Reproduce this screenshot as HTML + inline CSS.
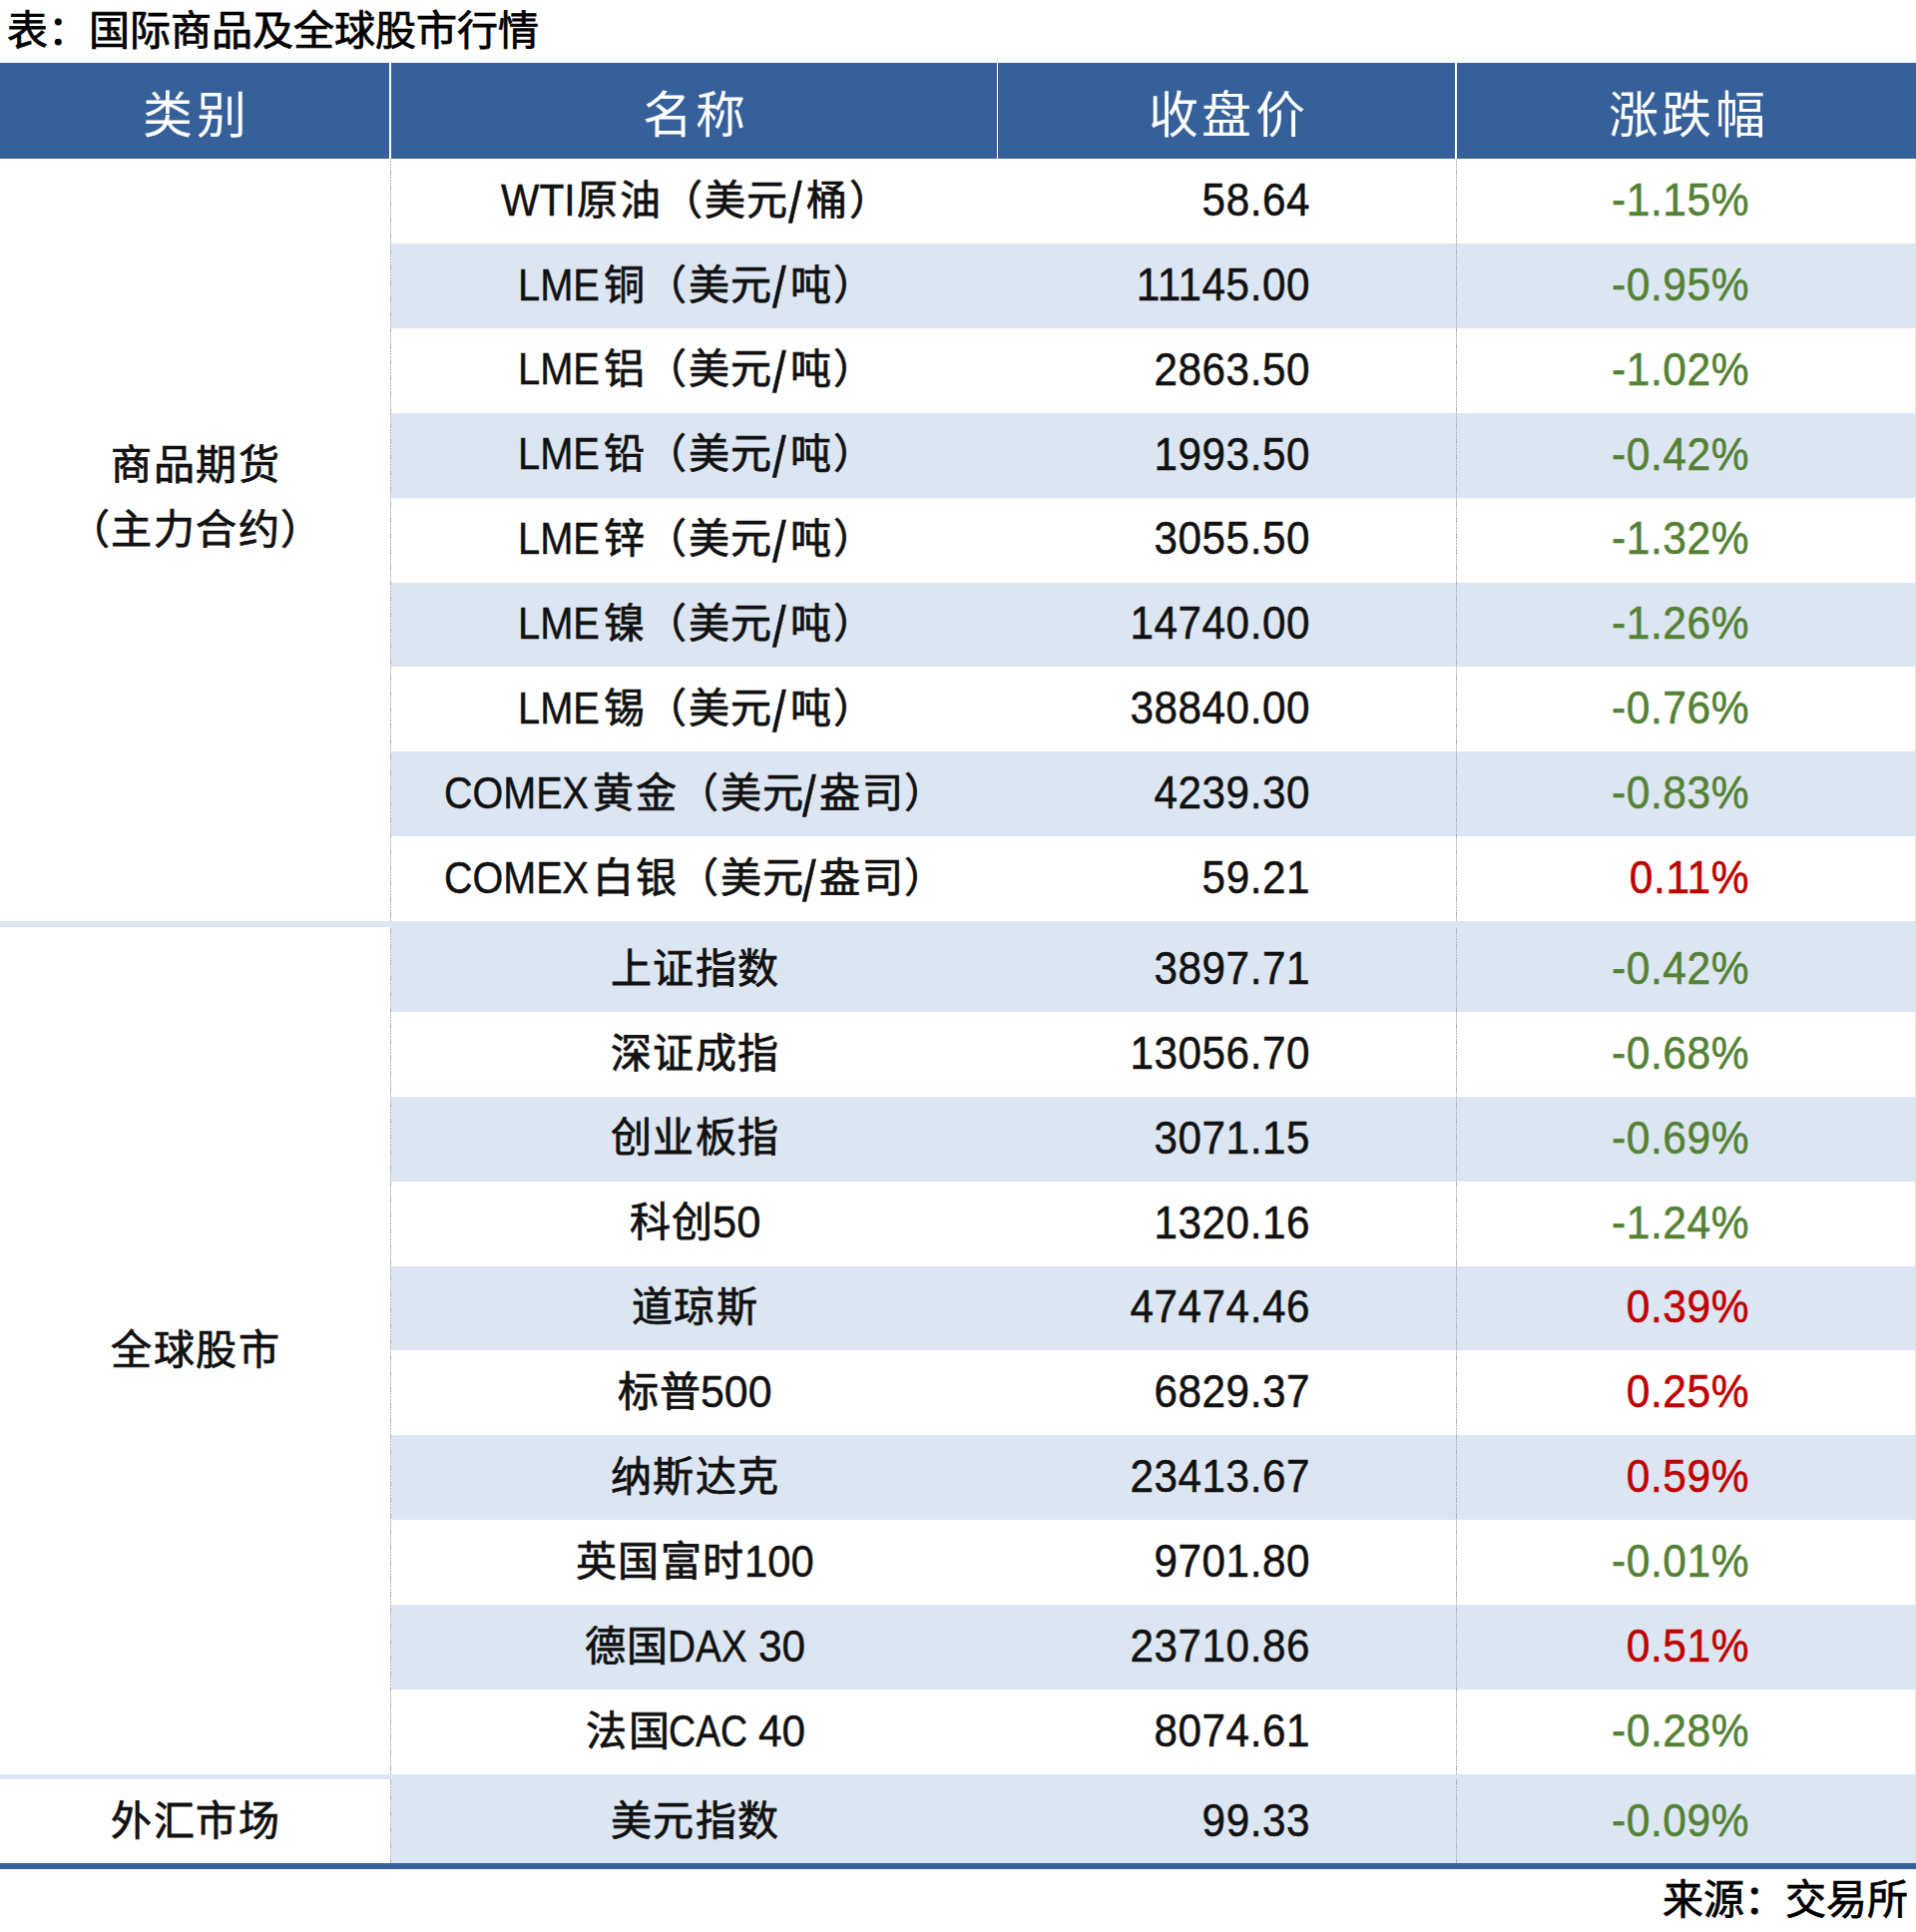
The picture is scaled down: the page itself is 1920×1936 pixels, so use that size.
<!DOCTYPE html>
<html lang="zh-CN"><head><meta charset="utf-8">
<title>国际商品及全球股市行情</title>
<style>
html,body{margin:0;padding:0;background:#fff;}
body{width:1920px;height:1936px;position:relative;overflow:hidden;font-family:"Liberation Sans",sans-serif;color:#111;}
.title{position:absolute;left:7px;top:1px;font-size:41px;line-height:60px;white-space:nowrap;color:#000;-webkit-text-stroke:0.75px currentColor;}
.hdr{position:absolute;left:0;top:63px;width:1920px;height:96px;background:#36609a;}
.vdiv{position:absolute;top:63px;height:96px;background:#fff;}
.ht{position:absolute;top:68px;height:96px;line-height:96px;font-size:50px;letter-spacing:3.5px;text-indent:3.5px;color:#fff;text-align:center;white-space:nowrap;font-family:"Liberation Serif",serif;}
.band{position:absolute;left:392px;width:1528px;background:#dce6f2;}
.sep{position:absolute;left:0;width:1920px;height:5px;background:#dce6f2;}
.bot{position:absolute;left:0;top:1867px;width:1920px;height:6px;background:#36609a;}
.dash{position:absolute;width:1px;background-image:linear-gradient(to bottom,#b2b2b2 0,#b2b2b2 34.7%,transparent 34.7%,transparent 44.2%,#b2b2b2 44.2%,#b2b2b2 53.7%,transparent 53.7%,transparent 63.2%,#b2b2b2 63.2%,#b2b2b2 72.7%,transparent 72.7%,transparent 82.2%,#b2b2b2 82.2%,#b2b2b2 91.6%,transparent 91.6%,transparent 100%);background-size:1px 15.83px;}
.rline{position:absolute;left:1919px;top:159px;width:1px;height:1708px;background:#e4e4e4;}
.t{position:absolute;height:0;line-height:0;font-size:41px;white-space:nowrap;-webkit-text-stroke:0.75px currentColor;}
.nm{left:393px;width:607px;text-align:center;letter-spacing:1.5px;}
.rc{letter-spacing:1.5px;}
.rl{font-size:45px;transform-origin:0 0;-webkit-text-stroke:0.45px currentColor;}
.rs{font-size:45px;transform-origin:0 0;transform:scale(1.1,1.29);-webkit-text-stroke:0.3px currentColor;}
.px{left:999px;width:314px;text-align:right;font-size:43px;letter-spacing:0.6px;transform:scale(0.98,1.07);transform-origin:100% 0;-webkit-text-stroke:0.5px currentColor;}
.pc{left:1460px;width:293px;text-align:right;font-size:43px;letter-spacing:0.6px;transform:scale(0.987,1.07);transform-origin:100% 0;-webkit-text-stroke:0.5px currentColor;}
.cat{position:absolute;left:1px;width:390px;text-align:center;font-size:41px;white-space:nowrap;height:0;line-height:0;letter-spacing:1.5px;-webkit-text-stroke:0.75px currentColor;}
.src{position:absolute;right:8px;top:1904px;font-size:41px;line-height:0;white-space:nowrap;color:#000;-webkit-text-stroke:0.75px currentColor;}
</style></head><body>
<div class="title">表：国际商品及全球股市行情</div>
<div class="hdr"></div>
<div class="rline"></div>
<div class="vdiv" style="left:390px;width:2px"></div>
<div class="vdiv" style="left:999px;width:1px"></div>
<div class="vdiv" style="left:1458px;width:2px"></div>
<div class="ht" style="left:0;width:390px">类别</div>
<div class="ht" style="left:392px;width:607px">名称</div>
<div class="ht" style="left:1000px;width:458px">收盘价</div>
<div class="ht" style="left:1460px;width:460px">涨跌幅</div>
<div class="band" style="top:243.90px;height:84.90px"></div>
<div class="band" style="top:413.70px;height:84.90px"></div>
<div class="band" style="top:583.50px;height:84.90px"></div>
<div class="band" style="top:753.30px;height:84.90px"></div>
<div class="band" style="top:929.00px;height:84.90px"></div>
<div class="band" style="top:1098.80px;height:84.90px"></div>
<div class="band" style="top:1268.60px;height:84.90px"></div>
<div class="band" style="top:1438.40px;height:84.90px"></div>
<div class="band" style="top:1608.20px;height:84.90px"></div>
<div class="band" style="top:1783.00px;height:84.90px"></div>
<div class="t rl" style="top:200.65px;left:501.90px;transform:scaleX(0.9038)">WTI</div>
<div class="t rc" style="top:200.65px;left:578.30px">原油（美元</div>
<div class="t rs" style="top:204.35px;left:790.40px">/</div>
<div class="t rc" style="top:200.65px;left:808.00px">桶）</div>
<div class="t px" style="top:199.85px">58.64</div>
<div class="t pc" style="top:199.85px;color:#548235">-1.15%</div>
<div class="t rl" style="top:285.55px;left:519.24px;transform:scaleX(0.8852)">LME</div>
<div class="t rc" style="top:285.55px;left:604.70px">铜（美元</div>
<div class="t rs" style="top:289.25px;left:773.70px">/</div>
<div class="t rc" style="top:285.55px;left:792.00px">吨）</div>
<div class="t px" style="top:284.75px">11145.00</div>
<div class="t pc" style="top:284.75px;color:#548235">-0.95%</div>
<div class="t rl" style="top:370.45px;left:519.24px;transform:scaleX(0.8852)">LME</div>
<div class="t rc" style="top:370.45px;left:604.70px">铝（美元</div>
<div class="t rs" style="top:374.15px;left:773.70px">/</div>
<div class="t rc" style="top:370.45px;left:792.00px">吨）</div>
<div class="t px" style="top:369.65px">2863.50</div>
<div class="t pc" style="top:369.65px;color:#548235">-1.02%</div>
<div class="t rl" style="top:455.35px;left:519.24px;transform:scaleX(0.8852)">LME</div>
<div class="t rc" style="top:455.35px;left:604.70px">铅（美元</div>
<div class="t rs" style="top:459.05px;left:773.70px">/</div>
<div class="t rc" style="top:455.35px;left:792.00px">吨）</div>
<div class="t px" style="top:454.55px">1993.50</div>
<div class="t pc" style="top:454.55px;color:#548235">-0.42%</div>
<div class="t rl" style="top:540.25px;left:519.24px;transform:scaleX(0.8852)">LME</div>
<div class="t rc" style="top:540.25px;left:604.70px">锌（美元</div>
<div class="t rs" style="top:543.95px;left:773.70px">/</div>
<div class="t rc" style="top:540.25px;left:792.00px">吨）</div>
<div class="t px" style="top:539.45px">3055.50</div>
<div class="t pc" style="top:539.45px;color:#548235">-1.32%</div>
<div class="t rl" style="top:625.15px;left:519.24px;transform:scaleX(0.8852)">LME</div>
<div class="t rc" style="top:625.15px;left:604.70px">镍（美元</div>
<div class="t rs" style="top:628.85px;left:773.70px">/</div>
<div class="t rc" style="top:625.15px;left:792.00px">吨）</div>
<div class="t px" style="top:624.35px">14740.00</div>
<div class="t pc" style="top:624.35px;color:#548235">-1.26%</div>
<div class="t rl" style="top:710.05px;left:519.24px;transform:scaleX(0.8852)">LME</div>
<div class="t rc" style="top:710.05px;left:604.70px">锡（美元</div>
<div class="t rs" style="top:713.75px;left:773.70px">/</div>
<div class="t rc" style="top:710.05px;left:792.00px">吨）</div>
<div class="t px" style="top:709.25px">38840.00</div>
<div class="t pc" style="top:709.25px;color:#548235">-0.76%</div>
<div class="t rl" style="top:794.95px;left:445.14px;transform:scaleX(0.8778)">COMEX</div>
<div class="t rc" style="top:794.95px;left:594.10px">黄金（美元</div>
<div class="t rs" style="top:798.65px;left:804.40px">/</div>
<div class="t rc" style="top:794.95px;left:821.10px">盎司）</div>
<div class="t px" style="top:794.15px">4239.30</div>
<div class="t pc" style="top:794.15px;color:#548235">-0.83%</div>
<div class="t rl" style="top:879.85px;left:445.14px;transform:scaleX(0.8778)">COMEX</div>
<div class="t rc" style="top:879.85px;left:594.10px">白银（美元</div>
<div class="t rs" style="top:883.55px;left:804.40px">/</div>
<div class="t rc" style="top:879.85px;left:821.10px">盎司）</div>
<div class="t px" style="top:879.05px">59.21</div>
<div class="t pc" style="top:879.05px;color:#c00000">0.11%</div>
<div class="t nm" style="top:970.65px">上证指数</div>
<div class="t px" style="top:969.85px">3897.71</div>
<div class="t pc" style="top:969.85px;color:#548235">-0.42%</div>
<div class="t nm" style="top:1055.55px">深证成指</div>
<div class="t px" style="top:1054.75px">13056.70</div>
<div class="t pc" style="top:1054.75px;color:#548235">-0.68%</div>
<div class="t nm" style="top:1140.45px">创业板指</div>
<div class="t px" style="top:1139.65px">3071.15</div>
<div class="t pc" style="top:1139.65px;color:#548235">-0.69%</div>
<div class="t rc" style="top:1225.35px;left:630.90px">科创</div>
<div class="t rl" style="top:1225.35px;left:713.67px;transform:scaleX(0.9660)">50</div>
<div class="t px" style="top:1224.55px">1320.16</div>
<div class="t pc" style="top:1224.55px;color:#548235">-1.24%</div>
<div class="t nm" style="top:1310.25px">道琼斯</div>
<div class="t px" style="top:1309.45px">47474.46</div>
<div class="t pc" style="top:1309.45px;color:#c00000">0.39%</div>
<div class="t rc" style="top:1395.15px;left:618.50px">标普</div>
<div class="t rl" style="top:1395.15px;left:702.09px;transform:scaleX(0.9528)">500</div>
<div class="t px" style="top:1394.35px">6829.37</div>
<div class="t pc" style="top:1394.35px;color:#c00000">0.25%</div>
<div class="t nm" style="top:1480.05px">纳斯达克</div>
<div class="t px" style="top:1479.25px">23413.67</div>
<div class="t pc" style="top:1479.25px;color:#c00000">0.59%</div>
<div class="t rc" style="top:1564.95px;left:576.80px">英国富时</div>
<div class="t rl" style="top:1564.95px;left:745.72px;transform:scaleX(0.9268)">100</div>
<div class="t px" style="top:1564.15px">9701.80</div>
<div class="t pc" style="top:1564.15px;color:#548235">-0.01%</div>
<div class="t rc" style="top:1649.85px;left:585.60px">德国</div>
<div class="t rl" style="top:1649.85px;left:669.21px;transform:scaleX(0.8618)">DAX</div>
<div class="t rl" style="top:1649.85px;left:760.06px;transform:scaleX(0.9417)">30</div>
<div class="t px" style="top:1649.05px">23710.86</div>
<div class="t pc" style="top:1649.05px;color:#c00000">0.51%</div>
<div class="t rc" style="top:1734.75px;left:587.00px">法国</div>
<div class="t rl" style="top:1734.75px;left:670.13px;transform:scaleX(0.8337)">CAC</div>
<div class="t rl" style="top:1734.75px;left:760.06px;transform:scaleX(0.9417)">40</div>
<div class="t px" style="top:1733.95px">8074.61</div>
<div class="t pc" style="top:1733.95px;color:#548235">-0.28%</div>
<div class="t nm" style="top:1824.65px">美元指数</div>
<div class="t px" style="top:1823.85px">99.33</div>
<div class="t pc" style="top:1823.85px;color:#548235">-0.09%</div>
<div class="sep" style="top:923px;height:6px"></div>
<div class="sep" style="top:1778px"></div>
<div class="dash" style="left:391px;top:159px;height:764px;background-position:0 11px"></div>
<div class="dash" style="left:391px;top:929px;height:849px;background-position:0 1.2px"></div>
<div class="dash" style="left:391px;top:1783px;height:84px;background-position:0 0px"></div>
<div class="dash" style="left:1459px;top:159px;height:764px;background-position:0 11px"></div>
<div class="dash" style="left:1459px;top:929px;height:849px;background-position:0 1.2px"></div>
<div class="dash" style="left:1459px;top:1783px;height:84px;background-position:0 0px"></div>
<div class="bot"></div>
<div class="cat" style="top:466px">商品期货</div>
<div class="cat" style="top:531px">（主力合约）</div>
<div class="cat" style="top:1353px">全球股市</div>
<div class="cat" style="top:1825px">外汇市场</div>
<div class="src">来源：交易所</div>
</body></html>
